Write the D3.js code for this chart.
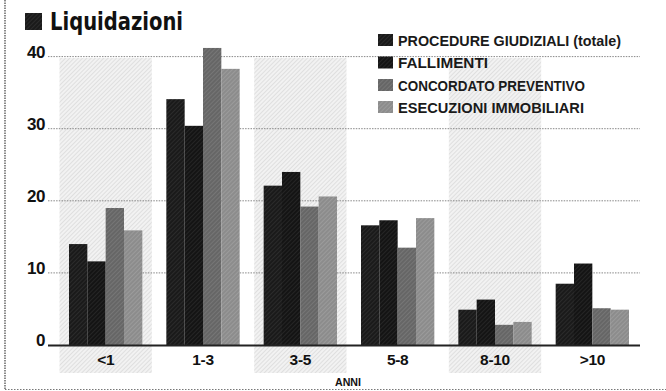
<!DOCTYPE html>
<html><head><meta charset="utf-8">
<script src="https://cdn.jsdelivr.net/npm/d3@7"></script>
<style>
html,body{margin:0;padding:0;background:#fff;}
svg{display:block;}
</style></head>
<body>
<script>
const categories = ["<1","1-3","3-5","5-8","8-10",">10"];
const seriesNames = ["PROCEDURE GIUDIZIALI (totale)","FALLIMENTI","CONCORDATO PREVENTIVO","ESECUZIONI IMMOBILIARI"];
const procedure   = [14.0, 34.1, 22.1, 16.6, 4.9, 8.5];
const fallimenti  = [11.6, 30.4, 24.0, 17.3, 6.3, 11.3];
const concordato  = [19.0, 41.2, 19.2, 13.5, 2.8, 5.1];
const esecuzioni  = [15.9, 38.3, 20.6, 17.6, 3.2, 4.9];
const yTicks = [0,10,20,30,40];
const title = "Liquidazioni";
const xTitle = "ANNI";

const W=666,H=391;
const svg=d3.select("body").append("svg").attr("width",W).attr("height",H);
const defs=svg.append("defs");
function hatch(id,bg,fg,sw){
  const p=defs.append("pattern").attr("id",id).attr("patternUnits","userSpaceOnUse")
    .attr("width",3).attr("height",3).attr("patternTransform","rotate(45)");
  p.append("rect").attr("width",3).attr("height",3).attr("fill",bg);
  p.append("line").attr("x1",0).attr("y1",0).attr("x2",0).attr("y2",3).attr("stroke",fg).attr("stroke-width",sw);
}
const colors=[["#1a1a1a","#3c3c3c"],["#141414","#363636"],["#666","#858585"],["#8c8c8c","#ababab"]];
colors.forEach((c,i)=>hatch("h"+i,c[0],c[1],1));
hatch("hb","#f2f2f2","#cccccc",1);

const series=[procedure,fallimenti,concordato,esecuzioni];
const x=d3.scaleBand().domain(categories).range([57,641]).padding(0);
const y=d3.scaleLinear().domain([0,40]).range([345,56.6]);
const xs=d3.scaleBand().domain(d3.range(4)).range([12,x.bandwidth()-12]).padding(0);
const narrow="'Liberation Sans','Arial',sans-serif";

// frame
svg.append("line").attr("x1",5).attr("x2",5).attr("y1",0).attr("y2",389).attr("stroke","#666").attr("stroke-width",1.5).attr("stroke-dasharray","1.5,1");
svg.append("line").attr("x1",5).attr("x2",666).attr("y1",389.5).attr("y2",389.5).attr("stroke","#777").attr("stroke-width",1.2).attr("stroke-dasharray","1.5,1.5");

// shaded bands
svg.append("g").selectAll("rect").data(categories.filter((d,i)=>i%2===0)).join("rect")
  .attr("x",d=>x(d)+2.5).attr("width",x.bandwidth()-5).attr("y",58).attr("height",373-58)
  .attr("fill","url(#hb)");

// gridlines
svg.append("g").selectAll("line").data(yTicks.filter(d=>d>0)).join("line")
  .attr("x1",48).attr("x2",640).attr("y1",d=>y(d)).attr("y2",d=>y(d))
  .attr("stroke","#888").attr("stroke-width",1).attr("stroke-dasharray","1.5,1.2");

// bars
const g=svg.append("g");
series.forEach((s,si)=>{
  g.selectAll(".b"+si).data(s).join("rect").attr("class","b"+si)
    .attr("x",(d,i)=>x(categories[i])+xs(si)).attr("width",xs.bandwidth())
    .attr("y",d=>y(d)).attr("height",d=>y(0)-y(d)).attr("fill","url(#h"+si+")");
});

// axis line
svg.append("line").attr("x1",48).attr("x2",640).attr("y1",y(0)+0.5).attr("y2",y(0)+0.5).attr("stroke","#222").attr("stroke-width",2);

// y labels
const yAxis=d3.axisLeft(y).tickValues(yTicks).tickSize(0).tickPadding(0);
const ya=svg.append("g").attr("transform","translate(45,0)").call(yAxis);
ya.select(".domain").remove();
ya.selectAll("text").attr("font-family",narrow)
  .attr("font-weight","bold").attr("font-size",17).attr("fill","#111").attr("dy","0.05em").attr("x",0)
  .style("letter-spacing","-0.5px");

// x labels
const xAxis=d3.axisBottom(x).tickSize(0).tickPadding(0);
const xa=svg.append("g").attr("transform","translate(0,354)").call(xAxis);
xa.select(".domain").remove();
xa.selectAll("text").attr("font-family",narrow)
  .attr("font-weight","bold").attr("font-size",15.5).attr("fill","#111").style("letter-spacing","-0.3px");

svg.append("text").attr("x",348).attr("y",386).attr("text-anchor","middle")
  .attr("font-family",narrow).attr("font-weight","bold").attr("font-size",11).attr("fill","#111")
  .attr("textLength",26).attr("lengthAdjust","spacingAndGlyphs").text(xTitle);

// title
svg.append("rect").attr("x",25).attr("y",13).attr("width",17).attr("height",17).attr("fill","url(#h0)");
svg.append("text").attr("x",50).attr("y",30).attr("font-family","'DejaVu Sans',sans-serif")
  .attr("font-weight","bold").attr("font-size",24).attr("fill","#111")
  .attr("textLength",133).attr("lengthAdjust","spacingAndGlyphs").text(title);

// legend
const lg=svg.append("g");
const legY=[40,62.5,85,107];
const legW=[223,90,187,186];
seriesNames.forEach((n,i)=>{
  lg.append("rect").attr("x",378).attr("y",legY[i]-6).attr("width",15).attr("height",12).attr("fill","url(#h"+i+")");
  lg.append("text").attr("x",398).attr("y",legY[i]+5.5).attr("font-family",narrow).attr("font-weight","bold")
    .attr("font-size",15).attr("fill","#1a1a1a").attr("textLength",legW[i]).attr("lengthAdjust","spacingAndGlyphs").text(n);
});
</script>
</body></html>
